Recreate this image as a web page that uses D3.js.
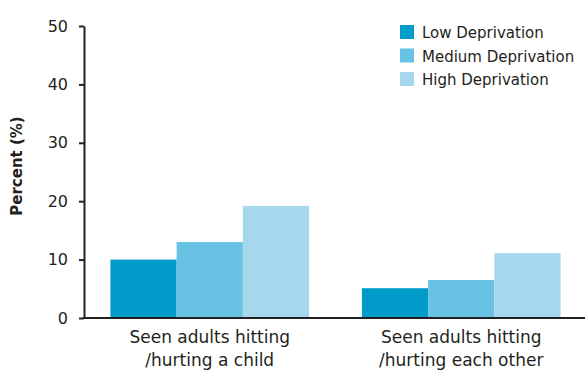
<!DOCTYPE html>
<html>
<head>
<meta charset="utf-8">
<script src="https://cdn.jsdelivr.net/npm/d3@7"></script>
<style>
  html, body { margin: 0; padding: 0; background: #fff; }
  svg { display: block; font-family: "DejaVu Sans", sans-serif; }
</style>
</head>
<body>
<svg id="chart" width="585" height="372"></svg>
<script>
// Exposure to violence by deprivation level
const categories = [
  ["Seen adults hitting", "/hurting a child"],
  ["Seen adults hitting", "/hurting each other"]
];
const seriesNames = ["Low Deprivation", "Medium Deprivation", "High Deprivation"];
const lowValues = [10.0, 5.1];
const mediumValues = [13.0, 6.5];
const highValues = [19.2, 11.1];
const yTicks = [0, 10, 20, 30, 40, 50];
const colors = ["#009bc9", "#67c2e3", "#a5d8ec"];

const seriesValues = [lowValues, mediumValues, highValues];
const catKeys = categories.map((c, i) => i);
const ink = "#231f20";
const fontFamily = "DejaVu Sans, sans-serif";

const svg = d3.select("#chart");
const plotLeft = 84, plotRight = 587, plotTop = 26, plotBottom = 318;

const x0 = d3.scaleBand().domain(catKeys).range([plotLeft, plotRight])
  .paddingInner(0.21).paddingOuter(0.105);
const x1 = d3.scaleBand().domain(seriesNames.map((d, i) => i))
  .range([0, x0.bandwidth()]).padding(0);
const y = d3.scaleLinear().domain([0, 50]).range([plotBottom, plotTop]);

// bars
const groups = svg.append("g").selectAll("g")
  .data(catKeys).join("g")
  .attr("transform", c => `translate(${x0(c)},0)`);
groups.selectAll("rect")
  .data(c => seriesValues.map((vals, s) => ({ s, v: vals[c] })))
  .join("rect")
  .attr("x", d => x1(d.s))
  .attr("width", x1.bandwidth())
  .attr("y", d => y(d.v))
  .attr("height", d => y(0) - y(d.v))
  .attr("fill", d => colors[d.s]);

// y axis
const yAxis = svg.append("g")
  .attr("transform", `translate(${plotLeft},0)`)
  .call(d3.axisLeft(y).tickValues(yTicks).tickSize(5).tickPadding(11).tickSizeOuter(0));
yAxis.select(".domain").attr("stroke", ink).attr("stroke-width", 2);
yAxis.selectAll(".tick line").attr("stroke", ink).attr("stroke-width", 2);
yAxis.selectAll(".tick text")
  .attr("font-size", 16).attr("fill", ink)
  .attr("font-family", fontFamily);

// x axis baseline
const xAxis = svg.append("g")
  .attr("transform", `translate(0,${plotBottom})`)
  .call(d3.axisBottom(x0).tickSize(0).tickFormat(() => ""));
xAxis.select(".domain").attr("stroke", ink).attr("stroke-width", 2)
  .attr("d", `M${plotLeft - 1},0H585`);

// category labels
xAxis.selectAll(".tick text").remove();
xAxis.selectAll(".tick").append("text")
  .attr("text-anchor", "middle")
  .attr("fill", ink)
  .attr("font-size", 17)
  .attr("font-family", fontFamily)
  .selectAll("tspan")
  .data(c => categories[c])
  .join("tspan")
  .attr("x", 0)
  .attr("y", (d, i) => 25 + i * 23)
  .text(d => d);

// y axis title
svg.append("text")
  .attr("transform", "translate(22,166) rotate(-90)")
  .attr("text-anchor", "middle")
  .attr("font-size", 15)
  .attr("font-weight", "bold")
  .attr("fill", ink)
  .text("Percent (%)");

// legend
const legend = svg.append("g").attr("transform", "translate(400,25)");
const items = legend.selectAll("g").data(seriesNames).join("g")
  .attr("transform", (d, i) => `translate(0,${i * 23.5})`);
items.append("rect").attr("width", 14).attr("height", 14)
  .attr("fill", (d, i) => colors[i]);
items.append("text").attr("x", 22).attr("y", 13)
  .attr("font-size", 15).attr("fill", ink)
  .text(d => d);
</script>
</body>
</html>
